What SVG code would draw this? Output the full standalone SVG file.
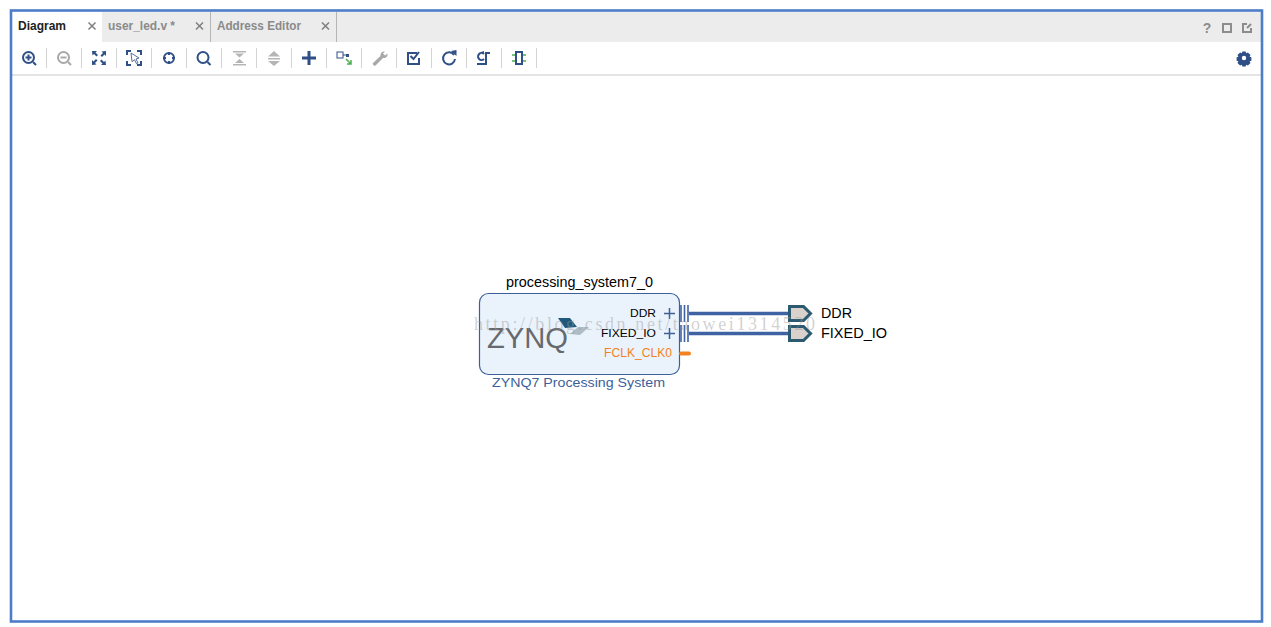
<svg xmlns="http://www.w3.org/2000/svg" width="1271" height="627" viewBox="0 0 1271 627">
<style>
text{font-family:"Liberation Sans",Arial,sans-serif}
.tab{font-size:12px;font-weight:bold;fill:#8a8a8a}
.x{stroke:#7f7f7f;stroke-width:1.500;fill:none}
.sep{stroke:#d4d4d4;stroke-width:1}
.tabsep{stroke:#b5b5b5;stroke-width:1}
.ic{fill:none;stroke:#2f4f87;stroke-width:2}
.icf{fill:#2f4f87;stroke:none}
.dis{fill:none;stroke:#a8a8a8;stroke-width:2}
.disf{fill:#b5b5b5;stroke:none}
.win{fill:none;stroke:#8c8c8c;stroke-width:2}
.pin{font-size:11.500px;fill:#000}
.bus{stroke:#3f62a3;stroke-width:3.500;fill:none}
.tick{stroke:#3f62a3;stroke-width:1.600;fill:none}
.ext{fill:#d9d2cc;stroke:#2c5a70;stroke-width:3}
.extl{font-size:14px;fill:#000}
</style>
<rect width="1271" height="627" fill="#fff"/>
<g id="window">
<rect x="12" y="12" width="1249" height="30" fill="#ececec"/>
<rect x="12" y="12" width="90" height="30" fill="#fff"/>
<rect x="12" y="74" width="1249" height="2" fill="#e4e4e4"/>
<rect x="11" y="10.500" width="1251" height="611" fill="none" stroke="#4d7cc9" stroke-width="2.600"/>
</g>
<g id="tabs">
<text x="18" y="30" font-size="12" font-weight="bold" fill="#222">Diagram</text>
<path class="x" d="M88.500 22.500l7 7M95.500 22.500l-7 7"/>
<text class="tab" x="108" y="30" textLength="67" lengthAdjust="spacingAndGlyphs">user_led.v *</text>
<path class="x" d="M196 22.500l7 7M203 22.500l-7 7"/>
<line class="tabsep" x1="210.500" y1="12" x2="210.500" y2="42"/>
<text class="tab" x="217" y="30" textLength="84" lengthAdjust="spacingAndGlyphs">Address Editor</text>
<path class="x" d="M322 22.500l7 7M329 22.500l-7 7"/>
<line class="tabsep" x1="336.500" y1="12" x2="336.500" y2="42"/>
</g>
<g id="window-buttons">
<text x="1207" y="33" font-size="14" font-weight="bold" fill="#8c8c8c" text-anchor="middle">?</text>
<rect class="win" x="1223" y="24" width="8" height="8"/>
<path class="win" stroke-width="1.500" d="M1247 24h-4v8h8v-4M1247 28l4-4"/>
</g>
<g id="toolbar">
<path class="sep" d="M46.500 48v20M81.500 48v20M116.500 48v20M151.500 48v20M186.500 48v20M221.500 48v20M256.500 48v20M291.500 48v20M326.500 48v20M361.500 48v20M396.500 48v20M431.500 48v20M466.500 48v20M501.500 48v20M536.500 48v20"/>
<g><circle class="ic" cx="28.500" cy="57.500" r="5.500"/><path class="ic" stroke-width="1.500" d="M25.500 57.500h6M28.500 54.500v6"/><path class="ic" stroke-width="3" d="M33 62l3 3"/></g>
<g><circle class="dis" cx="63.500" cy="57.500" r="5.500"/><path class="dis" stroke-width="1.500" d="M60.500 57.500h6"/><path class="dis" stroke-width="3" d="M68 62l3 3"/></g>
<path class="icf" d="M92 51h5l-1.500 1.500 2.500 2.500-1.500 1.500-2.500-2.500-1.500 1.500zM106 51v5l-1.500-1.500-2.500 2.500-1.500-1.500 2.500-2.500-1.500-1.500zM92 65v-5l1.500 1.500 2.500-2.500 1.500 1.500-2.500 2.500 1.500 1.500zM106 65h-5l1.500-1.500-2.500-2.500 1.500-1.500 2.500 2.500 1.500-1.500z"/>
<path class="ic" stroke-width="1.500" d="M127 55v-4h4M137 51h4v4M141 61v4h-4M131 65h-4v-4"/>
<path d="M131 53l8 5-3 1 2 4-1.500 .7-2-4-2.500 2z" fill="#fff" stroke="#2f4f87" stroke-width=".8"/>
<g><circle class="ic" stroke-width="1.100" cx="169" cy="58" r="5"/><path class="ic" stroke-width="1.300" d="M169 52v3M169 61v3M163 58h3M172 58h3"/></g>
<g><circle class="ic" stroke-width="2.400" cx="203" cy="57.500" r="5.500"/><path class="ic" stroke-width="3" d="M207.500 62l3 3"/></g>
<path class="disf" d="M233 51h13v1.500h-13zM233 64h13v1.500h-13zM235 53.500h9l-4.500 4zM235 63l4.500-4 4.500 4z"/>
<path class="disf" d="M268 56.500l6-5.500 6 5.500zM268 58h12v1.500h-12zM268 61h12l-6 5z"/>
<path class="icf" d="M302 56.500h5.500V51h3v5.500h5.500v3h-5.500V65h-3v-5.500H302z"/>
<g><rect x="337" y="52" width="6" height="6" fill="#fff" stroke="#2f4f87"/><path d="M343 55h3" stroke="#2f4f87"/><rect x="346" y="54" width="3" height="3" fill="#2f4f87"/><path d="M346 59l5 5M351 60v4h-4" fill="none" stroke="#4caf50" stroke-width="1.500"/></g>
<path d="M385 51.500c-2.500-.5-5 1.500-4.500 4.500L373 63c-1 1 1.500 3.500 2.500 2.500l7.500-7.500c3 .5 5-2 4.500-4.500l-2.500 2-2-2z" fill="#a8a8a8"/>
<g><path class="ic" d="M419 58v6h-11v-11h9"/><path class="ic" d="M410.500 56l3 3 5.500-7"/></g>
<g><path class="ic" stroke-width="2.400" d="M454 55a6 6 0 1 0 1 4"/><path class="icf" d="M451 51l5.500-1v6z"/></g>
<g><path class="ic" stroke-width="1.300" d="M477 64h9V53h4"/><path class="ic" stroke-width="1.300" d="M484 54a3.500 3.500 0 1 0 0 5"/><path class="icf" d="M481 52l3-1v3z"/></g>
<g><path d="M512 55h4M512 61h4M522 55h4M522 61h4" stroke="#4caf50" stroke-width="1.600"/><rect class="ic" stroke-width="1.200" fill="#dfe6f0" x="516" y="52" width="6" height="12"/></g>
<g transform="translate(1244 58)"><path class="icf" d="M-1.700-6.500h3.400l.4 1.800 1.800-.9 2.600 2.600-.9 1.800 1.800.4v3.600l-1.800.4.900 1.800-2.600 2.600-1.800-.9-.4 1.800h-3.400l-.4-1.800-1.800.9-2.600-2.600.9-1.800-1.800-.4v-3.600l1.800-.4-.9-1.800 2.600-2.600 1.800.9z"/><circle cx="0" cy="0" r="2.200" fill="#fff"/></g>
</g>
<g id="processing_system7_0">
<text x="506" y="287" font-size="14" fill="#000" textLength="147" lengthAdjust="spacingAndGlyphs">processing_system7_0</text>
<rect x="479.500" y="293.500" width="200" height="81" rx="9" fill="#eaf3fc" stroke="#3d5f99" stroke-width="1.200"/>
<text x="487" y="348" font-size="30" fill="#66696d" textLength="81" lengthAdjust="spacingAndGlyphs">ZYNQ</text>
<path d="M558 318h12l7 9-12 1z" fill="#1f5a7d"/>
<path d="M570 334l8-7h11l-9 8z" fill="#aebcc6"/>
<text x="630" y="317" class="pin" textLength="26" lengthAdjust="spacingAndGlyphs">DDR</text>
<text x="601" y="337" class="pin" textLength="55" lengthAdjust="spacingAndGlyphs">FIXED_IO</text>
<text x="604" y="357" font-size="12" fill="#f58220" textLength="68" lengthAdjust="spacingAndGlyphs">FCLK_CLK0</text>
<path d="M664 313.500h11M669.500 308v11M664 333.500h11M669.500 328v11" stroke="#3f5f95" stroke-width="1.500" fill="none"/>
<text x="492" y="387" font-size="13.500" fill="#3d5f99" textLength="173" lengthAdjust="spacingAndGlyphs">ZYNQ7 Processing System</text>
<path d="M681 353.500h8" stroke="#f58220" stroke-width="4" stroke-linecap="round"/>
</g>
<g id="connectors">
<path class="bus" d="M689 313.500h100M689 333.500h100"/>
<path class="tick" d="M681 305v17M684.500 305v17M688 305v17M681 325v17M684.500 325v17M688 325v17"/>
</g>
<g id="DDR">
<path class="ext" d="M789.500 306.500h14l7 7-7 7h-14z"/>
<text class="extl" x="821" y="318" textLength="31" lengthAdjust="spacingAndGlyphs">DDR</text>
</g>
<g id="FIXED_IO">
<path class="ext" d="M789.500 326.500h14l7 7-7 7h-14z"/>
<text class="extl" x="821" y="338" textLength="66" lengthAdjust="spacingAndGlyphs">FIXED_IO</text>
</g>
<g id="watermark">
<text x="474" y="330" font-size="18" fill="#9a9a9a" fill-opacity=".45" textLength="341" lengthAdjust="spacing" style="font-family:'Liberation Serif',serif">http://blog.csdn.net/taowei1314520</text>
</g>
</svg>
